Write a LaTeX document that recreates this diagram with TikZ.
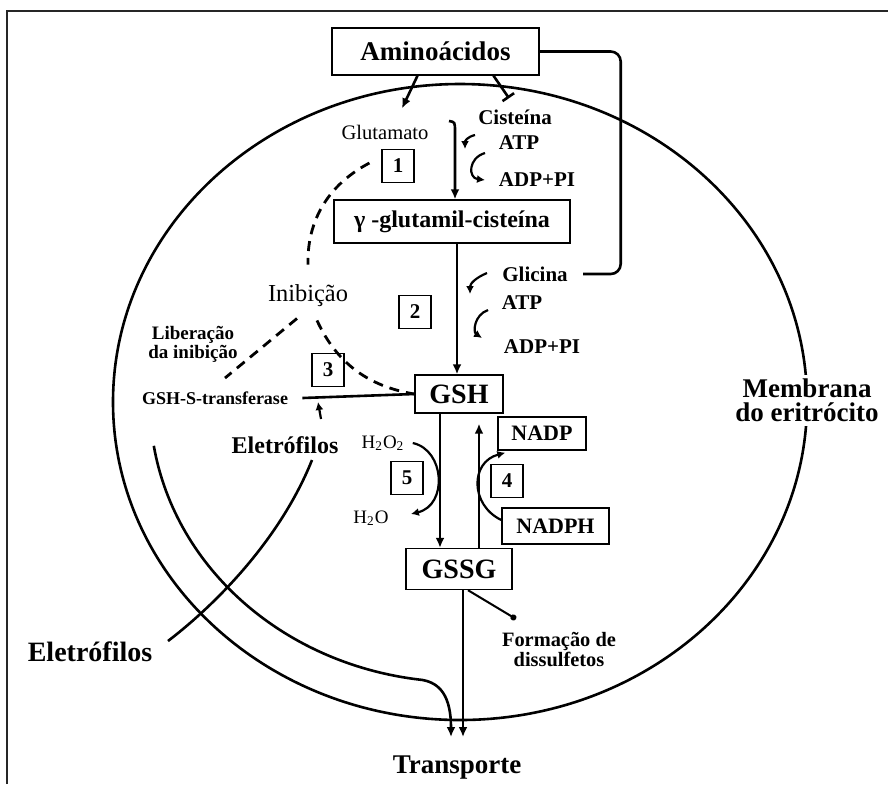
\documentclass[tikz,border=0pt]{standalone}
\usepackage{fontspec}
\setmainfont{Liberation Serif}
\usetikzlibrary{arrows.meta}
\tikzstyle{bx}=[draw=black,line width=0.7pt,inner sep=0pt]
\tikzstyle{nb}=[draw=black,line width=0.6pt,minimum width=16pt,minimum height=16.5pt,inner sep=0pt,font=\fontsize{10.5}{12}\selectfont\bfseries]
\tikzstyle{tx}=[inner sep=0pt,font=\fontsize{10.5}{12}\selectfont\bfseries]
\tikzstyle{rg}=[inner sep=0pt,font=\fontsize{10.3}{12}\selectfont]
\tikzstyle{ln}=[line width=1.3pt]
\tikzstyle{ar}=[line width=1.3pt,-{Latex[length=5pt,width=4.5pt]}]
\tikzstyle{sar}=[line width=1.1pt,-{Latex[length=4pt,width=4pt]}]
\tikzstyle{ds}=[line width=1.4pt,dash pattern=on 5pt off 3.5pt]

\begin{document}
\begin{tikzpicture}[x=0.5pt,y=-0.5pt]
\useasboundingbox (0,0) rectangle (888,784);
\draw[line width=1.3pt,black!85] (7,784) -- (7,11) -- (888,11);
\draw[ln] (460,402) ellipse [x radius=347, y radius=318];

\node[bx,minimum width=103.5pt,minimum height=23.5pt,font=\fontsize{13.5}{15}\selectfont\bfseries] (amino) at (435.5,51.5) {Aminoácidos};
\node[bx,minimum width=118pt,minimum height=21.5pt,font=\fontsize{12}{14}\selectfont\bfseries] (gam) at (452,221.5) {γ -glutamil-cisteína};
\node[bx,minimum width=44pt,minimum height=19pt,font=\fontsize{14}{16}\selectfont\bfseries] (gsh) at (459,394) {GSH};
\node[bx,minimum width=44pt,minimum height=16.5pt,font=\fontsize{11}{13}\selectfont\bfseries] (nadp) at (542,433.5) {NADP};
\node[bx,minimum width=53.5pt,minimum height=18pt,font=\fontsize{11}{13}\selectfont\bfseries] (nadph) at (555.5,526) {NADPH};
\node[bx,minimum width=53pt,minimum height=20.5pt,font=\fontsize{14}{16}\selectfont\bfseries] (gssg) at (459,569) {GSSG};

\node[rg] (glu) at (385,132) {Glutamato};
\node[tx] (cis) at (515,117) {Cisteína};
\node[tx] (atp1) at (519,143) {ATP};
\node[tx] (adp1) at (537,180) {ADP+PI};
\node[tx] (gli) at (535,274) {Glicina};
\node[tx] (atp2) at (522,303) {ATP};
\node[tx] (adp2) at (542,347) {ADP+PI};
\node[rg,font=\fontsize{12.2}{14}\selectfont] (inib) at (308,296) {Inibição};
\node[tx,align=center,font=\fontsize{9.5}{8.5}\selectfont\bfseries] (lib) at (193,344) {Liberação\\da inibição};
\node[tx,font=\fontsize{9}{10}\selectfont\bfseries] (gst) at (215,398) {GSH-S-transferase};
\node[tx,font=\fontsize{12}{14}\selectfont\bfseries] (elin) at (285,445) {Eletrófilos};
\node[tx,font=\fontsize{14}{16}\selectfont\bfseries] (elout) at (90,652) {Eletrófilos};
\node[rg,font=\fontsize{9.5}{11}\selectfont] (hoo) at (383,443) {H\textsubscript{2}O\textsubscript{2}};
\node[rg,font=\fontsize{9.5}{11}\selectfont] (ho) at (371,518) {H\textsubscript{2}O};
\node[tx,align=center,font=\fontsize{10.2}{10}\selectfont\bfseries] (form) at (559,649) {Formação de\\dissulfetos};
\node[tx,font=\fontsize{13.5}{15}\selectfont\bfseries] (trans) at (457,768) {Transporte};
\node[tx,fill=white,inner sep=2pt,align=center,font=\fontsize{13.5}{12}\selectfont\bfseries] (memb) at (807,400) {Membrana\\do eritrócito};

\node[nb] (n1) at (398,166) {1};
\node[nb] (n2) at (415,312) {2};
\node[nb] (n3) at (328,370) {3};
\node[nb] (n4) at (507,481) {4};
\node[nb] (n5) at (407,478) {5};

\coordinate (r1) at (449,121);
\coordinate (a1s) at (475,135); \coordinate (a1e) at (465,149);
\coordinate (p1s) at (485,153); \coordinate (p1e) at (485,180);
\coordinate (a2s) at (487,273); \coordinate (a2e) at (470,294);
\coordinate (p2s) at (488,310); \coordinate (p2e) at (482,338);
\coordinate (libe) at (225,378);
\coordinate (elt) at (321,419); \coordinate (elh) at (318,402);
\coordinate (x0) at (153.8,445.8);
\coordinate (tl) at (451,737); \coordinate (tr) at (463,737);
\coordinate (eo) at (168,641); \coordinate (ei) at (312,460);
\coordinate (fd) at (516,619);

\draw[ar] ([xshift=-9pt]amino.south) -- ([xshift=8.5pt,yshift=8pt]glu.north);
\draw[ln,-{Bar[width=7pt]}] ([xshift=29pt]amino.south) -- ([xshift=-3pt,yshift=5.5pt]cis.north);
\draw[ln,rounded corners=5pt] (amino.east) -- ++(81,0) -- ++(0,222.5) -- ([xshift=7.5pt]gli.east);

\draw[ar] (r1) .. controls (455,122) .. (455,132) -- ([xshift=1.5pt]gam.north);
\draw[sar] (a1s) .. controls (467,137) and (465,141) .. (a1e);
\draw[sar] (p1s) .. controls (468,158) and (468,178) .. (p1e);
\draw[ar] ([xshift=2.5pt]gam.south) -- ([xshift=-1pt]gsh.north);
\draw[sar] (a2s) .. controls (475,278) and (470,284) .. (a2e);
\draw[sar] (p2s) .. controls (474,315) and (473,332) .. (p2e);

\draw[ds] ([xshift=-6pt,yshift=1.5pt]n1.west) .. controls (322,188) and (307,228) .. ([yshift=10pt]inib.north);
\draw[ds] ([xshift=-5.5pt,yshift=-5.5pt]inib.south) -- (libe);
\draw[ds] ([xshift=4.5pt,yshift=-6.5pt]inib.south) .. controls (333,355) and (360,385) .. (gsh.west);

\draw[ln] ([xshift=7pt]gst.east) -- (gsh.west);
\draw[sar] (elt) -- (elh);

\draw[ar] ([xshift=-9.5pt]gsh.south) -- ([xshift=-9.5pt]gssg.north);
\draw[ar] ([xshift=10pt]gssg.north) -- ([xshift=10pt,yshift=-5pt]gsh.south);
\draw[sar] ([xshift=4pt]hoo.east) .. controls (445,450) and (448,505) .. ([xshift=11pt,yshift=2pt]ho.east);
\draw[sar] ([yshift=3pt]nadph.west) .. controls (470,505) and (470,462) .. ([xshift=4pt,yshift=-1pt]nadp.south west);

\draw[ar] ([xshift=2pt]gssg.south) -- (tr);
\draw[line width=1pt,-{Circle[length=3pt]}] ([xshift=4.5pt]gssg.south) -- (fd);
\draw[ar] (x0) arc[start angle=171, end angle=97, x radius=310, y radius=280] .. controls (440,683) and (451,696) .. (tl);
\draw[ln] (eo) .. controls (215,605) and (280,540) .. (ei);
\end{tikzpicture}
\end{document}
